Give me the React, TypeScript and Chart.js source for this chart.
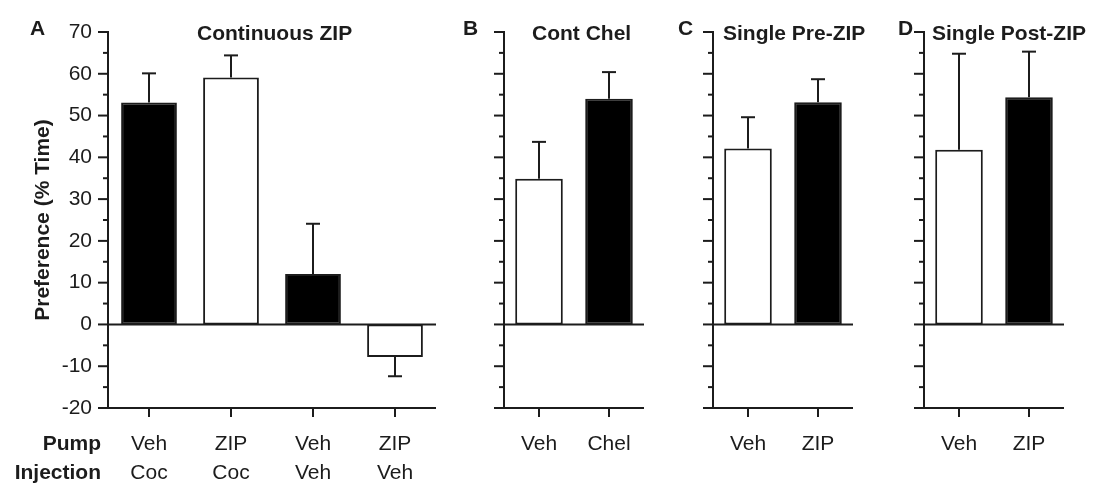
import React, { useEffect, useRef } from 'react';
import { Chart, registerables } from 'chart.js';

Chart.register(...registerables);

// ---------- data ----------
const Y_MIN = -20;
const Y_MAX = 70;
const yMajorTicks = [-20, -10, 0, 10, 20, 30, 40, 50, 60, 70];
const yMinorTicks = [-15, -5, 5, 15, 25, 35, 45, 55, 65];

const aCategories = [['Veh', 'Coc'], ['ZIP', 'Coc'], ['Veh', 'Veh'], ['ZIP', 'Veh']];
const aMeans = [53.1, 59.1, 12.1, -7.8];
const aSem = [7.0, 5.3, 12.0, 4.6];
const aColors = ['#000000', '#ffffff', '#000000', '#ffffff'];

const bCategories = ['Veh', 'Chel'];
const bMeans = [34.9, 54.0];
const bSem = [8.8, 6.4];

const cCategories = ['Veh', 'ZIP'];
const cMeans = [42.1, 53.2];
const cSem = [7.5, 5.5];

const dCategories = ['Veh', 'ZIP'];
const dMeans = [41.8, 54.4];
const dSem = [23.0, 10.9];

const twoColors = ['#ffffff', '#000000'];

const rowLabels = ['Pump', 'Injection'];
const yAxisTitle = 'Preference (% Time)';

// ---------- styling ----------
const FONT = '"Liberation Sans", Arial, Helvetica, sans-serif';
const INK = '#1c1c1c';
const H = 485;
const PLOT_TOP = 32;
const PLOT_BOTTOM = 408;
const LABEL_PAD = 22;
const LINE_H = 29;

type PanelProps = {
  x: number;
  width: number;
  plotLeft: number;
  plotRight: number;
  categories: any[];
  means: number[];
  sem: number[];
  colors: string[];
  letter: string;
  letterX: number;
  title: string;
  titleX: number;
  main?: boolean;
};

function Panel(p: PanelProps) {
  const ref = useRef<HTMLCanvasElement>(null);

  useEffect(() => {
    const line = (ctx: CanvasRenderingContext2D, x1: number, y1: number, x2: number, y2: number) => {
      ctx.beginPath();
      ctx.moveTo(x1, y1);
      ctx.lineTo(x2, y2);
      ctx.stroke();
    };

    const decor = {
      id: 'decor',
      afterDatasetsDraw(chart: any) {
        const ctx: CanvasRenderingContext2D = chart.ctx;
        const { left, right } = chart.chartArea;
        const xs = chart.scales.x;
        const ys = chart.scales.y;
        const yTop = ys.getPixelForValue(Y_MAX);
        const yBot = ys.getPixelForValue(Y_MIN);
        const y0 = ys.getPixelForValue(0);
        ctx.save();
        ctx.strokeStyle = INK;
        ctx.lineWidth = 2;
        ctx.lineCap = 'butt';
        // y axis
        line(ctx, left, yTop - 1, left, yBot + 1);
        yMajorTicks.forEach((v) => {
          const py = ys.getPixelForValue(v);
          line(ctx, left - 10, py, left, py);
        });
        yMinorTicks.forEach((v) => {
          const py = ys.getPixelForValue(v);
          line(ctx, left - 5, py, left, py);
        });
        // zero line and bottom axis
        line(ctx, left, y0, right, y0);
        line(ctx, left, yBot, right, yBot);
        // category ticks
        p.categories.forEach((_c, i) => {
          const px = xs.getPixelForValue(i);
          line(ctx, px, yBot, px, yBot + 9);
        });
        // error bars
        const meta = chart.getDatasetMeta(0);
        meta.data.forEach((el: any, i: number) => {
          const m = p.means[i];
          const dir = m >= 0 ? 1 : -1;
          const start = ys.getPixelForValue(m);
          const end = ys.getPixelForValue(m + dir * p.sem[i]);
          line(ctx, el.x, start, el.x, end);
          line(ctx, el.x - 7, end, el.x + 7, end);
        });
        // texts
        ctx.fillStyle = INK;
        ctx.textBaseline = 'alphabetic';
        ctx.textAlign = 'left';
        ctx.font = `bold 21px ${FONT}`;
        ctx.fillText(p.letter, p.letterX, 35);
        ctx.fillText(p.title, p.titleX, 40);
        if (p.main) {
          ctx.textAlign = 'right';
          ctx.textBaseline = 'middle';
          rowLabels.forEach((t, i) => {
            ctx.fillText(t, 101, yBot + LABEL_PAD + LINE_H / 2 + i * LINE_H);
          });
          ctx.save();
          ctx.translate(43, (yTop + yBot) / 2);
          ctx.rotate(-Math.PI / 2);
          ctx.textAlign = 'center';
          ctx.fillText(yAxisTitle, 0, 0);
          ctx.restore();
        }
        ctx.restore();
      },
    };

    const chart = new Chart(ref.current as HTMLCanvasElement, {
      type: 'bar',
      data: {
        labels: p.categories,
        datasets: [
          {
            data: p.means,
            backgroundColor: p.colors,
            borderColor: INK,
            borderWidth: 2,
            borderSkipped: false,
            barPercentage: 0.68,
            categoryPercentage: 1,
          },
        ],
      },
      options: {
        animation: false,
        responsive: false,
        maintainAspectRatio: false,
        layout: {
          padding: { left: 0, right: p.width - p.plotRight, top: PLOT_TOP, bottom: 0 },
        },
        plugins: {
          legend: { display: false },
          tooltip: { enabled: false },
          title: { display: false },
        },
        scales: {
          x: {
            type: 'category',
            grid: { display: false, drawTicks: false },
            border: { display: false },
            ticks: {
              color: INK,
              padding: LABEL_PAD,
              maxRotation: 0,
              autoSkip: false,
              font: { family: FONT, size: 21, lineHeight: LINE_H / 21 },
            },
            afterFit: (s: any) => {
              s.height = H - PLOT_BOTTOM;
            },
          },
          y: {
            type: 'linear',
            min: Y_MIN,
            max: Y_MAX,
            grid: { display: false, drawTicks: false },
            border: { display: false },
            ticks: {
              display: !!p.main,
              stepSize: 10,
              color: INK,
              padding: 16,
              font: { family: FONT, size: 21 },
            },
            afterFit: (s: any) => {
              s.width = p.plotLeft;
            },
          },
        },
      },
      plugins: [decor],
    } as any);
    return () => chart.destroy();
  }, []);

  return (
    <canvas
      ref={ref}
      width={p.width}
      height={H}
      style={{ position: 'absolute', left: p.x, top: 0, width: p.width, height: H }}
    />
  );
}

export default function App() {
  return (
    <div style={{ position: 'absolute', left: 0, top: 0, width: 1097, height: H, background: '#fff', overflow: 'hidden' }}>
      <Panel x={0} width={450} plotLeft={108} plotRight={436} categories={aCategories} means={aMeans} sem={aSem}
        colors={aColors} letter="A" letterX={30} title="Continuous ZIP" titleX={197} main />
      <Panel x={450} width={220} plotLeft={54} plotRight={194} categories={bCategories} means={bMeans} sem={bSem}
        colors={twoColors} letter="B" letterX={13} title="Cont Chel" titleX={82} />
      <Panel x={670} width={220} plotLeft={43} plotRight={183} categories={cCategories} means={cMeans} sem={cSem}
        colors={twoColors} letter="C" letterX={8} title="Single Pre-ZIP" titleX={53} />
      <Panel x={890} width={207} plotLeft={34} plotRight={174} categories={dCategories} means={dMeans} sem={dSem}
        colors={twoColors} letter="D" letterX={8} title="Single Post-ZIP" titleX={42} />
    </div>
  );
}
